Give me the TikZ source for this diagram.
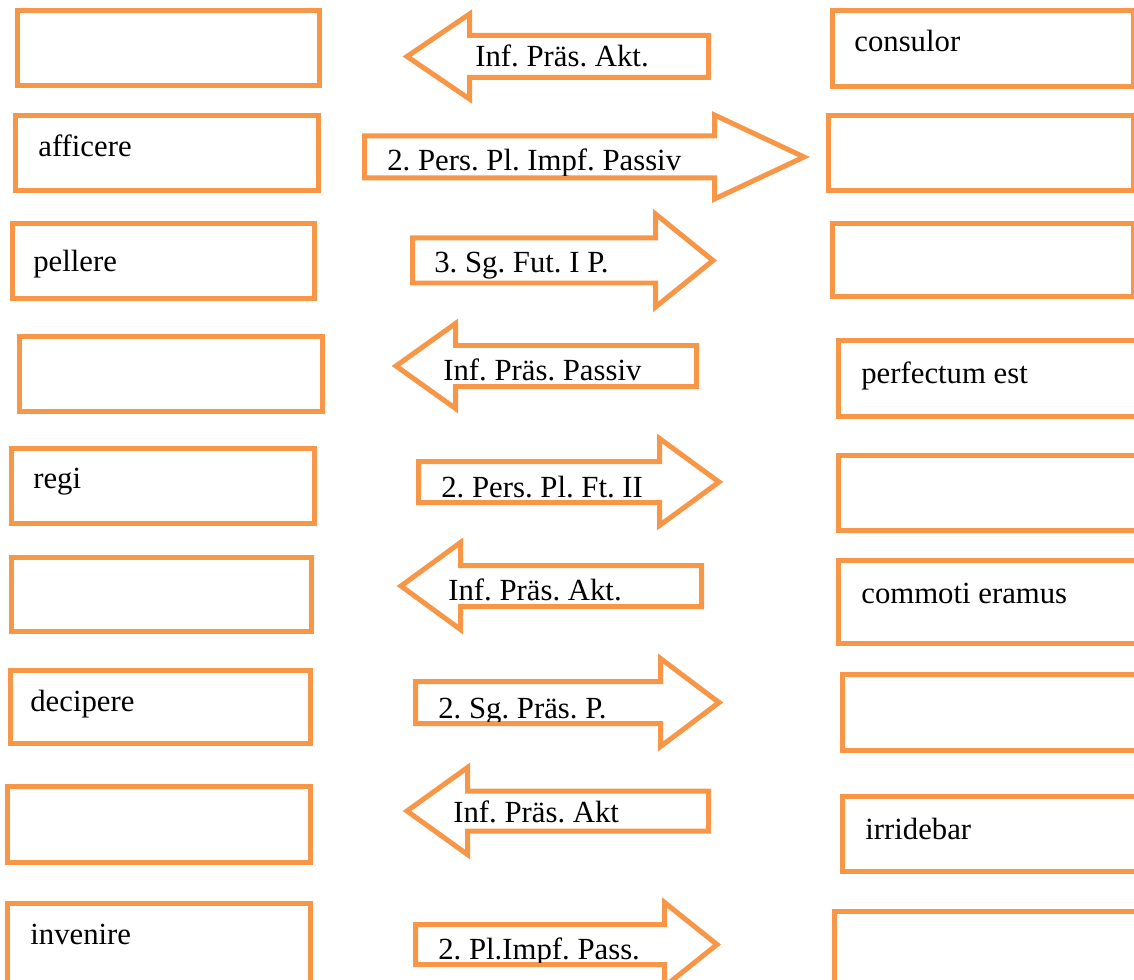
\documentclass[tikz,border=0pt]{standalone}
\usepackage{fontspec}
\setmainfont[Ligatures=CommonOff]{Liberation Serif}
\frenchspacing
\definecolor{accent}{HTML}{F79646}
\tikzset{
	box/.style={draw=accent, line width=0.1cm},
	blockarrow/.style={draw=accent, line width=0.1cm, line join=miter},
	word/.style={anchor=base west, inner sep=0pt, font=\fontsize{17.5}{21}\selectfont},
}
% block arrows: ends, head base, tip, middle y, shaft half, head half
\newcommand{\rblock}[6]{\draw[blockarrow] (#1,#4-#5) -- (#2,#4-#5) -- (#2,#4-#6) -- (#3,#4) -- (#2,#4+#6) -- (#2,#4+#5) -- (#1,#4+#5) -- cycle;}
\newcommand{\lblock}[6]{\draw[blockarrow] (#3,#4-#5) -- (#2,#4-#5) -- (#2,#4-#6) -- (#1,#4) -- (#2,#4+#6) -- (#2,#4+#5) -- (#3,#4+#5) -- cycle;}
% label cut off by the shaft
\newcommand{\blocklabel}[6]{\begin{scope}\clip (0,#4-#5+2.5) rectangle (1134,#4+#5-2.5); \node[word] (#1) at (#2,#3) {#6};\end{scope}}

\begin{document}
\begin{tikzpicture}[x=0.02cm, y=-0.02cm]
	\clip (0,0) rectangle (1134,980);
	% left column
	\draw[box] (17.5,10.5) rectangle (319.5,85.5);
	\draw[box] (15.5,115.5) rectangle (318.5,190.5);
	\draw[box] (12.5,223.5) rectangle (314.5,298.5);
	\draw[box] (19.5,336.5) rectangle (322.5,411.5);
	\draw[box] (11.5,448.5) rectangle (314.5,523.5);
	\draw[box] (11.5,557.5) rectangle (311.5,631.5);
	\draw[box] (10.5,670.5) rectangle (310.5,743.5);
	\draw[box] (7.5,786.5) rectangle (310.5,862.5);
	\draw[box] (7.5,903.5) rectangle (310.5,990);
	\node[word] (w2) at (38,157) {afficere};
	\node[word] (w3) at (33,272) {pellere};
	\node[word] (w5) at (33,488) {regi};
	\node[word] (w7) at (30,711) {decipere};
	\node[word] (w9) at (30,944) {invenire};
	% right column
	\draw[box] (832.5,10.5) rectangle (1133,86.5);
	\draw[box] (828.5,115.5) rectangle (1133,190.5);
	\draw[box] (832.5,223.5) rectangle (1133,296.5);
	\draw[box] (838.5,340.5) rectangle (1145,416.5);
	\draw[box] (838.5,455.5) rectangle (1145,530.5);
	\draw[box] (838.5,560.5) rectangle (1145,643.5);
	\draw[box] (842.5,674.5) rectangle (1145,750.5);
	\draw[box] (842.5,796.5) rectangle (1145,871.5);
	\draw[box] (834.5,911.5) rectangle (1145,990);
	\node[word] (v1) at (854,52) {consulor};
	\node[word] (v4) at (861,383) {perfectum est};
	\node[word] (v6) at (861,603) {commoti eramus};
	\node[word] (v8) at (865,839) {irridebar};
	% arrows in the middle
	\lblock{407}{469.5}{708.5}{56.5}{21}{42.5}
	\rblock{364.5}{714.5}{804}{157}{21}{42}
	\rblock{412.5}{655.5}{713}{260.5}{22.5}{46.5}
	\lblock{396}{455.5}{696.5}{366}{20.5}{42.5}
	\rblock{418.5}{659.5}{719}{482}{20.5}{43.5}
	\lblock{401}{460.5}{701.5}{586}{20.5}{43.5}
	\rblock{415.5}{660.5}{719}{702.5}{21}{44}
	\lblock{407}{467.5}{708.5}{811}{20}{43.5}
	\rblock{415.5}{664.5}{717}{944.5}{20}{42}
	\blocklabel{a1}{475}{67}{56.5}{21}{Inf. Präs. Akt.}
	\blocklabel{a2}{387}{171}{157}{21}{2. Pers. Pl. Impf. Passiv}
	\blocklabel{a3}{434}{273}{260.5}{22.5}{3. Sg. Fut. I P.}
	\blocklabel{a4}{443}{380}{366}{20.5}{Inf. Präs. Passiv}
	\blocklabel{a5}{441}{497}{482}{20.5}{2. Pers. Pl. Ft. II}
	\blocklabel{a6}{448}{600}{586}{20.5}{Inf. Präs. Akt.}
	\blocklabel{a7}{438}{718}{702.5}{21}{2. Sg. Präs. P.}
	\blocklabel{a8}{453}{822}{811}{20}{Inf. Präs. Akt}
	\blocklabel{a9}{438}{959}{944.5}{20}{2. Pl.Impf. Pass.}
\end{tikzpicture}
\end{document}
